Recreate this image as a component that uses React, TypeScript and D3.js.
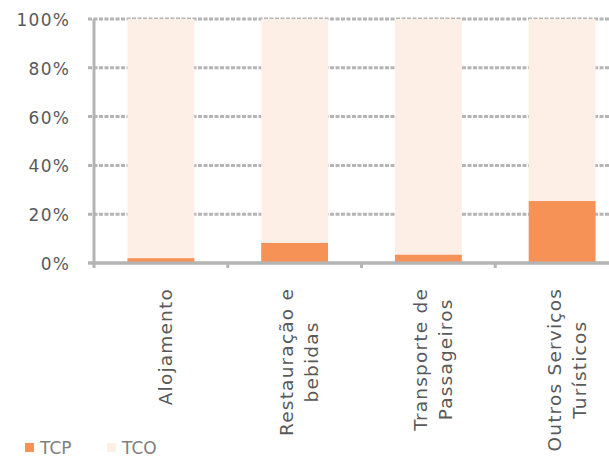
import React, { useEffect, useRef } from 'react';
import * as d3 from 'd3';

// dados (percentagem)
const categories = ['Alojamento', 'Restauração e bebidas', 'Transporte de Passageiros', 'Outros Serviços Turísticos'];
const categoryLines = [['Alojamento'], ['Restauração e', 'bebidas'], ['Transporte de', 'Passageiros'], ['Outros Serviços', 'Turísticos']];
const tcp = [2.0, 8.3, 3.5, 25.4];
const tco = [98.0, 91.7, 96.5, 74.6];
const seriesNames = ['TCP', 'TCO'];
const yTicks = [0, 20, 40, 60, 80, 100];

const W = 609;
const H = 457;
const colors: Record<string, string> = { TCP: '#f79256', TCO: '#fdefe6' };
const FONT = "'DejaVu Sans', Verdana, sans-serif";

const App: React.FC = () => {
  const svgRef = useRef<SVGSVGElement>(null);

  useEffect(() => {
    if (!svgRef.current) return;
    const svg = d3.select(svgRef.current);
    svg.selectAll('*').remove();

    const margin = { top: 19, left: 94, bottom: 263, right: 629 };

    const x = d3.scaleBand<string>()
      .domain(categories)
      .range([margin.left, margin.right])
      .paddingInner(0.5)
      .paddingOuter(0.25);

    const y = d3.scaleLinear().domain([0, 100]).range([margin.bottom, margin.top]);

    const rows = categories.map((c, i) => ({ cat: c, TCP: tcp[i], TCO: tco[i] }));
    const stacked = d3.stack<any>().keys(seriesNames)(rows);

    // grelha
    const grid = svg.append('g');
    yTicks.forEach(t => {
      grid.append('line')
        .attr('x1', margin.left - 6).attr('x2', W)
        .attr('y1', y(t)).attr('y2', y(t))
        .attr('stroke', '#b4b4b4').attr('stroke-width', 3)
        .attr('stroke-dasharray', t === 0 ? null : '4,1.5');
    });

    // barras
    const bars = svg.append('g');
    stacked.forEach(layer => {
      bars.selectAll(null)
        .data(layer)
        .enter()
        .append('rect')
        .attr('x', d => x(d.data.cat)!)
        .attr('width', x.bandwidth())
        .attr('y', d => y(d[1]))
        .attr('height', d => y(d[0]) - y(d[1]))
        .attr('fill', colors[layer.key]);
    });

    // eixos
    const axes = svg.append('g').attr('stroke', '#b4b4b4').attr('stroke-width', 3);
    axes.append('line')
      .attr('x1', margin.left).attr('x2', margin.left)
      .attr('y1', margin.top).attr('y2', margin.bottom + 5);
    axes.append('line')
      .attr('x1', margin.left - 6).attr('x2', W)
      .attr('y1', margin.bottom).attr('y2', margin.bottom);
    categories.forEach((c, i) => {
      if (i === 0) return;
      const bx = margin.left + i * x.step();
      axes.append('line')
        .attr('x1', bx).attr('x2', bx)
        .attr('y1', margin.bottom).attr('y2', margin.bottom + 5);
    });

    // rótulos do eixo Y
    yTicks.forEach(t => {
      svg.append('text')
        .attr('x', 70)
        .attr('y', y(t) + 7)
        .attr('text-anchor', 'end')
        .attr('fill', '#595959')
        .style('font-family', FONT)
        .style('font-size', '17px')
        .style('letter-spacing', '1.2px')
        .text(`${t}%`);
    });

    // rótulos das categorias (rodados)
    const lineGap = 25;
    categories.forEach((c, i) => {
      const lines = categoryLines[i];
      const cx = x(c)! + x.bandwidth() / 2 + 5;
      const g = svg.append('g');
      const texts = lines.map(l => g.append('text')
        .attr('fill', '#595959')
        .attr('text-anchor', 'middle')
        .style('font-family', FONT)
        .style('font-size', '18.5px')
        .style('letter-spacing', '1.2px')
        .text(l));
      const maxLen = d3.max(texts, t => (t.node() as SVGTextElement).getComputedTextLength()) || 0;
      const midY = 288 + maxLen / 2;
      const first = cx - ((lines.length - 1) * lineGap) / 2 + 6;
      texts.forEach((t, k) => {
        const bx = first + k * lineGap;
        t.attr('transform', `translate(${bx},${midY}) rotate(-90)`);
      });
    });

    // legenda
    const legendX = [25, 107];
    seriesNames.forEach((s, i) => {
      svg.append('rect')
        .attr('x', legendX[i]).attr('y', 443)
        .attr('width', 9).attr('height', 9)
        .attr('fill', colors[s]);
      svg.append('text')
        .attr('x', legendX[i] + 15).attr('y', 454)
        .attr('fill', '#7f7f7f')
        .style('font-family', FONT)
        .style('font-size', '17px')
        .text(s);
    });
  }, []);

  return (
    <svg
      ref={svgRef}
      width={W}
      height={H}
      viewBox={`0 0 ${W} ${H}`}
      style={{ position: 'absolute', left: 0, top: 0, background: '#fff' }}
    />
  );
};

export default App;
